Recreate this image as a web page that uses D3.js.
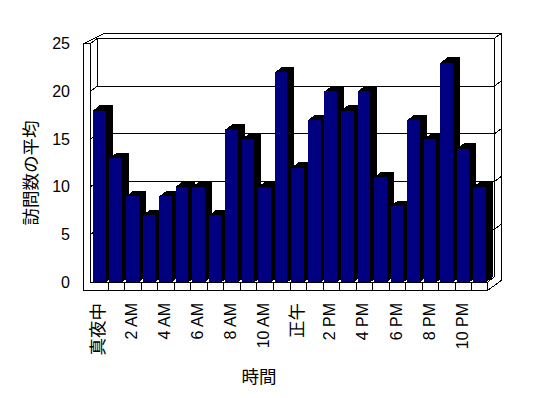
<!DOCTYPE html>
<html>
<head>
<meta charset="utf-8">
<script src="https://cdn.jsdelivr.net/npm/d3@7"></script>
<style>
  html, body { margin: 0; padding: 0; background: #fff; }
</style>
</head>
<body>
<div id="chart"></div>
<script>
const hours = ["真夜中", "1 AM", "2 AM", "3 AM", "4 AM", "5 AM", "6 AM", "7 AM", "8 AM", "9 AM", "10 AM", "11 AM",
  "正午", "1 PM", "2 PM", "3 PM", "4 PM", "5 PM", "6 PM", "7 PM", "8 PM", "9 PM", "10 PM", "11 PM"];
const visits = [18, 13, 9, 7, 9, 10, 10, 7, 16, 15, 10, 22, 12, 17, 20, 18, 20, 11, 8, 17, 15, 23, 14, 10];
const yTicks = [0, 5, 10, 15, 20, 25];
const yTitle = "訪問数の平均";
const xTitle = "時間";

const svgWidth = 548;
const svgHeight = 398;

// front plane of the 3d box
const wallOuter = 83.7; // outer face of left wall
const wallInner = 90.3; // inner face of left wall
const floorTop = 282.3;
const floorBottom = 290.7;
const floorRight = 487.3;
const plotTop = 43.7;
const depth = { x: 7, y: -5.3 }; // front -> back wall
const thick = { x: 7, y: -5 }; // back wall thickness

const fontFamily = "'Liberation Sans', 'Noto Sans CJK JP', sans-serif";
const barColor = "#000080";

const x = d3.scaleBand().domain(hours).range([91.5, 488.5]);
const y = d3.scaleLinear().domain([0, 25]).range([floorTop, plotTop]);
const yBack = (v) => y(v) + depth.y;

const svg = d3.select("#chart")
  .append("svg")
  .attr("width", svgWidth)
  .attr("height", svgHeight)
  .style("background", "#fff");

const line = d3.line();
const frame = svg.append("g")
  .attr("fill", "#fff")
  .attr("stroke", "#000")
  .attr("stroke-width", 1)
  .attr("shape-rendering", "crispEdges");

// back wall top + right side (outer outline)
const backRight = floorRight + depth.x;
frame.append("path")
  .attr("d", line([
    [wallOuter, y(25)],
    [wallInner + depth.x + thick.x, yBack(25) + thick.y],
    [backRight + thick.x, yBack(25) + thick.y],
    [backRight + thick.x, floorBottom + depth.y + thick.y],
    [floorRight, floorBottom],
    [floorRight, floorTop],
    [backRight, yBack(0)],
    [backRight, yBack(25)],
    [wallInner + depth.x, yBack(25)],
    [wallInner, y(25)],
  ]) + "Z");
frame.append("path")
  .attr("fill", "none")
  .attr("d", line([[backRight, yBack(25)], [backRight + thick.x, yBack(25) + thick.y]]));

// back-left edge (only visible in the top band)
frame.append("path")
  .attr("fill", "none")
  .attr("d", line([[wallInner + depth.x, yBack(25)], [wallInner + depth.x, yBack(20)]]));

// gridlines on back wall, left wall ticks and right side stubs
const grid = yTicks.filter((d) => d > 0 && d < 25);
frame.selectAll("path.grid")
  .data(grid)
  .join("path")
  .attr("class", "grid")
  .attr("fill", "none")
  .attr("d", (d) => line([
    [wallOuter, y(d)],
    [wallInner, y(d)],
    [wallInner + depth.x, yBack(d)],
    [backRight, yBack(d)],
    [backRight + thick.x, yBack(d) + thick.y],
  ]));

// left wall front face + floor front face (L shape)
frame.append("path")
  .attr("d", line([
    [wallOuter, y(25)],
    [wallInner, y(25)],
    [wallInner, floorTop],
    [floorRight, floorTop],
    [floorRight, floorBottom],
    [wallOuter, floorBottom],
  ]) + "Z");

// category ticks on the floor front
frame.selectAll("path.xtick")
  .data(hours.slice(1))
  .join("path")
  .attr("class", "xtick")
  .attr("fill", "none")
  .attr("d", (d) => line([[x(d), floorTop], [x(d), floorBottom]]));

// bars
const barOffset = 1.4;
const barWidth = 12.6;
const bars = svg.append("g").attr("shape-rendering", "crispEdges");
const barData = hours.map((h, i) => ({ h, v: visits[i] }));
bars.selectAll("g.bar")
  .data(barData)
  .join("g")
  .attr("class", "bar")
  .each(function (d) {
    const g = d3.select(this);
    const x0 = x(d.h) + barOffset;
    const x1 = x0 + barWidth;
    const yt = y(d.v);
    const y0 = y(0);
    g.append("path")
      .attr("fill", "#000")
      .attr("d", line([
        [x1, yt], [x1 + depth.x, yt + depth.y], [x1 + depth.x, y0 + depth.y], [x1, y0],
      ]) + "Z");
    g.append("path")
      .attr("fill", "#000")
      .attr("d", line([
        [x0, yt], [x0 + depth.x, yt + depth.y], [x1 + depth.x, yt + depth.y], [x1, yt],
      ]) + "Z");
    g.append("rect")
      .attr("x", x0)
      .attr("y", yt)
      .attr("width", barWidth)
      .attr("height", y0 - yt)
      .attr("fill", barColor);
  });

// y tick labels
svg.append("g")
  .attr("font-family", fontFamily)
  .attr("font-size", 16)
  .attr("text-anchor", "end")
  .selectAll("text")
  .data(yTicks)
  .join("text")
  .attr("x", 70)
  .attr("y", (d) => y(d))
  .attr("dominant-baseline", "central")
  .text((d) => d);

// x tick labels (every second category)
svg.append("g")
  .attr("font-family", fontFamily)
  .attr("font-size", 16)
  .attr("text-anchor", "end")
  .selectAll("text")
  .data(hours.filter((d, i) => i % 2 === 0))
  .join("text")
  .attr("transform", (d) => `translate(${x(d) + x.bandwidth() / 2 - 1.5}, 303) rotate(-90)`)
  .attr("dominant-baseline", "central")
  .attr("font-size", (d) => (/[\u3000-\u9fff]/.test(d) ? 17.5 : 16))
  .text((d) => d);

// axis titles
svg.append("text")
  .attr("transform", "translate(31, 173) rotate(-90)")
  .attr("font-family", fontFamily)
  .attr("font-size", 17.5)
  .attr("text-anchor", "middle")
  .attr("dominant-baseline", "central")
  .text(yTitle);

svg.append("text")
  .attr("x", 259)
  .attr("y", 377)
  .attr("font-family", fontFamily)
  .attr("font-size", 17.5)
  .attr("text-anchor", "middle")
  .attr("dominant-baseline", "central")
  .text(xTitle);
</script>
</body>
</html>
